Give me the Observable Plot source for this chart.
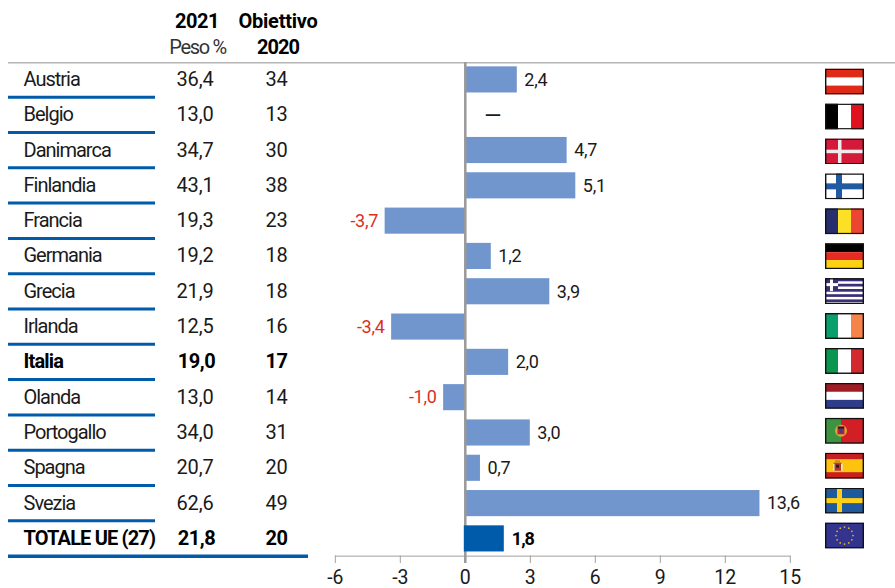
<!DOCTYPE html>
<html>
<head>
<meta charset="utf-8">
<script src="https://cdn.jsdelivr.net/npm/d3@7"></script>
<script src="https://cdn.jsdelivr.net/npm/@observablehq/plot@0.6"></script>
<style>
html,body{margin:0;padding:0;background:#fff}svg{display:block}
.nome{letter-spacing:-1px}
.nomeb{letter-spacing:-0.85px}
.num{letter-spacing:-0.15px}
.numb{letter-spacing:-0.4px}
.peso{letter-spacing:-1.3px}
.ob{letter-spacing:-0.25px}
.anno{letter-spacing:-0.5px}
.annob{letter-spacing:-1px}
.val{letter-spacing:-0.25px}
.valb{letter-spacing:-1px}
</style>
</head>
<body>
<div id="chart"></div>
<script>
const paesi = ["Austria","Belgio","Danimarca","Finlandia","Francia","Germania","Grecia","Irlanda","Italia","Olanda","Portogallo","Spagna","Svezia","TOTALE UE (27)"];
const peso2021 = ["36,4","13,0","34,7","43,1","19,3","19,2","21,9","12,5","19,0","13,0","34,0","20,7","62,6","21,8"];
const obiettivo2020 = [34,13,30,38,23,18,18,16,17,14,31,20,49,20];
const differenza = [2.4,0,4.7,5.1,-3.7,1.2,3.9,-3.4,2.0,-1.0,3.0,0.7,13.6,1.8];
const tickX = [-6,-3,0,3,6,9,12,15];

const stripesV = (a,b,c)=>`<rect width="13" height="26" fill="${a}"/><rect x="13" width="13" height="26" fill="${b}"/><rect x="26" width="13" height="26" fill="${c}"/>`;
const stripesH = (a,b,c)=>`<rect width="39" height="9" fill="${a}"/><rect y="9" width="39" height="8" fill="${b}"/><rect y="17" width="39" height="9" fill="${c}"/>`;
const cross = (bg,fg,x,w)=>`<rect width="39" height="26" fill="${bg}"/><rect x="${x}" width="${w}" height="26" fill="${fg}"/><rect y="${13-w/2}" width="39" height="${w}" fill="${fg}"/>`;
const grecia = ()=>{let s=`<rect width="39" height="26" fill="#fff"/>`;for(let i=0;i<5;i++)s+=`<rect y="${i*5.2+0.5}" width="39" height="2.7" fill="#3a2f78"/>`;s+=`<rect width="13" height="13" fill="#3a2f78"/><rect x="5" width="3" height="13" fill="#fff"/><rect y="5" width="13" height="3" fill="#fff"/>`;return s;};
const stelle = ()=>{let s=`<rect width="39" height="26" fill="#33348e"/>`;for(let i=0;i<12;i++){const a=i*Math.PI/6;s+=`<circle cx="${19.5+8.5*Math.cos(a)}" cy="${13+8.5*Math.sin(a)}" r="0.9" fill="#e0b030"/>`;}return s;};
const bandiere = {
  "Austria": stripesH("#df2a18","#fff","#df2a18"),
  "Belgio": stripesV("#000","#fff","#e1101e"),
  "Danimarca": cross("#d31a3a","#f3e8ea",13,3.5),
  "Finlandia": cross("#fff","#1f5aa2",11,6),
  "Francia": stripesV("#262e6e","#fbe025","#ec4534"),
  "Germania": stripesH("#000","#e92a22","#fdd20c"),
  "Grecia": grecia(),
  "Irlanda": stripesV("#0aa06e","#fff","#f5834a"),
  "Italia": stripesV("#0a9650","#fff","#d3282e"),
  "Olanda": stripesH("#a01c24","#fff","#2f3c88"),
  "Portogallo": `<rect width="16" height="26" fill="#3d9440"/><rect x="16" width="23" height="26" fill="#d21f26"/><circle cx="16" cy="13" r="6" fill="#d9a53a"/><rect x="12.5" y="8.5" width="7" height="8" fill="#c2202a"/><rect x="13" y="9" width="6" height="2" fill="#222"/><rect x="14.5" y="11" width="3" height="4" fill="#3a3f8f"/>`,
  "Spagna": `<rect width="39" height="26" fill="#c8201f"/><rect y="6.5" width="39" height="13" fill="#fdc30f"/><rect x="8.5" y="10" width="8" height="8" fill="#b9332a"/><rect x="10" y="7.5" width="5" height="3" fill="#c9902a"/><rect x="8" y="11" width="1.5" height="7" fill="#eee"/><rect x="16" y="11" width="1.5" height="7" fill="#eee"/><rect x="11" y="12" width="3" height="3" fill="#222"/>`,
  "Svezia": cross("#1f5a9e","#fdd016",12,5),
  "TOTALE UE (27)": stelle()
};
const bandiera = p => "data:image/svg+xml," + encodeURIComponent(
  `<svg xmlns="http://www.w3.org/2000/svg" width="39" height="26" viewBox="0 0 39 26">${bandiere[p]}<rect x=".7" y=".7" width="37.6" height="24.6" fill="none" stroke="#111" stroke-width="1.4"/></svg>`);

const righe = paesi.map((paese,i)=>({paese,peso:peso2021[i],obiettivo:obiettivo2020[i],diff:differenza[i],
  etichetta: differenza[i]===0 ? "—" : differenza[i].toFixed(1).replace(".",",")}));
const isTot = d=>d.paese==="TOTALE UE (27)";
const isBold = d=>d.paese==="TOTALE UE (27)"||d.paese==="Italia";
const step = 35.3;
const FS = 20;
const colonna = (filter,field,anchor,dx,bold,cls)=>Plot.text(righe.filter(filter),{
  y:"paese", text:field, frameAnchor:"left", textAnchor:anchor, dx, dy:-0.4, fontSize:FS, lineAnchor:"middle",
  className:cls, fontWeight:bold?"700":"400", fill:bold?"#000":"#1a1a1a"});
const head = (t,dx,dy,bold,cls)=>Plot.text([t],{frameAnchor:"top-left",textAnchor:"middle",lineAnchor:"middle",dx,dy,fontSize:FS,className:cls,fontWeight:bold?"700":"400",fill:bold?"#000":"#333"});

const plot = Plot.plot({
  width:895, height:588,
  marginLeft:0, marginRight:0, marginTop:0, marginBottom:32.5,
  style:{fontFamily:"Roboto, sans-serif", background:"#fff"},
  x:{domain:[-6,15], range:[334.8,789.8]},
  y:{domain:paesi, range:[61.75,556.05], paddingInner:0.26, paddingOuter:0.13, round:false, axis:null},
  marks:[
    Plot.ruleY(["Austria"],{y:d=>d,dy:-17.2,insetLeft:8,stroke:"#b5b5b5",strokeWidth:1.5}),
    Plot.ruleY(paesi.slice(0,-1),{y:d=>d,dy:step/2-0.4,insetLeft:8,insetRight:740,stroke:"#005baa",strokeWidth:3}),
    Plot.ruleY(["TOTALE UE (27)"],{y:d=>d,dy:step/2-0.4,insetLeft:8,insetRight:587,stroke:"#005baa",strokeWidth:3.5}),
    Plot.barX(righe.filter(d=>!isTot(d)),{x:"diff",y:"paese",fill:"#7196ce"}),
    Plot.ruleY(["TOTALE UE (27)"],{y:d=>d,dy:step/2-0.4,insetLeft:335,insetRight:105,stroke:"#a0a0a0",strokeWidth:1}),
    Plot.axisX({ticks:tickX,tickSize:7.5,tickPadding:6.5,tickFormat:d=>String(d),fontSize:19.5,stroke:"#a0a0a0",color:"#1a1a1a",label:null,anchor:"bottom",strokeWidth:1}),
    Plot.ruleX([0],{insetTop:62,insetBottom:-7.5,stroke:"#999",strokeWidth:2.5}),
    Plot.barX(righe.filter(isTot),{x:"diff",y:"paese",fill:"#005baa",insetLeft:-1}),

    head("2021",196.5,21,true,"anno"), head("Obiettivo",277.5,21,true,"ob"),
    head("Peso %",197,47.5,false,"peso"), head("2020",277.5,47.5,true,"annob"),

    colonna(d=>!isBold(d),"paese","start",23,false,"nome"),
    colonna(isBold,"paese","start",23,true,"nomeb"),
    colonna(d=>!isBold(d),"peso","middle",194.5,false,"num"),
    colonna(isBold,"peso","middle",196,true,"numb"),
    colonna(d=>!isBold(d),"obiettivo","middle",276,false,"num"),
    colonna(isBold,"obiettivo","middle",276,true,"numb"),

    Plot.text(righe.filter(d=>d.diff>0&&!isTot(d)),{x:"diff",y:"paese",text:"etichetta",textAnchor:"start",dx:7,fontSize:18,fill:"#1a1a1a",className:"val"}),
    Plot.text(righe.filter(d=>d.diff===0),{x:"diff",y:"paese",text:"etichetta",textAnchor:"start",dx:19,dy:1,fontSize:22,fill:"#1a1a1a"}),
    Plot.text(righe.filter(d=>d.diff<0),{x:"diff",y:"paese",text:"etichetta",textAnchor:"end",dx:-7,fontSize:18,fill:"#d9301f",className:"val"}),
    Plot.text(righe.filter(isTot),{x:"diff",y:"paese",text:"etichetta",textAnchor:"start",dx:7.5,fontSize:18,fontWeight:"700",fill:"#000",className:"valb"}),

    ...righe.map((d,i)=>Plot.image([d],{y:"paese",src:r=>bandiera(r.paese),frameAnchor:"left",dx:844,dy:1.7-i*0.39,width:39,height:26,preserveAspectRatio:"none"}))
  ]
});
document.getElementById("chart").append(plot);
</script>
</body>
</html>
